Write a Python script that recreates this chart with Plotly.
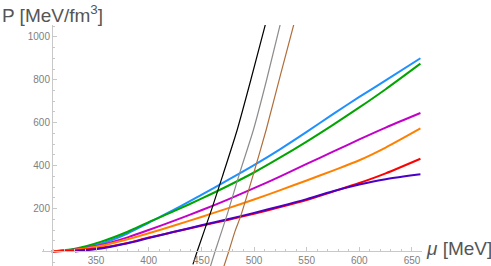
import plotly.graph_objects as go

# chemical potential grid [MeV]
mu = [308, 330, 355, 380, 400, 425, 450, 475, 500, 525, 550, 575, 600, 625, 658]
p_blue = [0, 10, 37, 84, 134, 197, 264, 332, 402, 477, 557, 640, 720, 797, 900]
p_green = [0, 13, 46, 92, 137, 190, 246, 305, 368, 438, 512, 590, 671, 756, 875]
p_magenta = [0, 9, 31, 66, 100, 145, 192, 242, 295, 350, 408, 465, 522, 577, 645]
p_orange = [0, 8, 27, 57, 85, 122, 161, 201, 242, 286, 331, 377, 425, 484, 573]
p_red = [0, 6, 18, 40, 65, 92, 120, 147, 176, 207, 240, 279, 319, 364, 432]

mu_purple = [330, 355, 380, 400, 425, 450, 475, 500, 525, 550, 575, 600, 625, 658]
p_purple = [0, 14, 38, 63, 93, 122, 150, 180, 211, 244, 281, 312, 337, 360]

mu_black = [442, 446, 460, 470, 484, 497, 512]
p_black = [-60, 0, 200, 350, 566, 800, 1080]
mu_gray = [456, 463, 475, 486.8, 499.4, 512, 526]
p_gray = [-110, 0, 180, 372, 566, 800, 1080]
mu_brown = [470, 476, 482, 487, 500, 511.5, 525, 539]
p_brown = [-90, 0, 95, 160, 370, 566, 820, 1080]

x_ticks = [350, 400, 450, 500, 550, 600, 650]
y_ticks = [200, 400, 600, 800, 1000]

fig = go.Figure()

thick = [
    (mu, p_blue, "rgb(30,144,255)"),
    (mu, p_green, "rgb(0,165,0)"),
    (mu, p_magenta, "rgb(195,0,200)"),
    (mu, p_orange, "rgb(255,128,0)"),
    (mu, p_red, "rgb(255,0,0)"),
    (mu_purple, p_purple, "rgb(75,0,200)"),
]
thin = [
    (mu_black, p_black, "rgb(0,0,0)"),
    (mu_gray, p_gray, "rgb(140,140,140)"),
    (mu_brown, p_brown, "rgb(175,110,60)"),
]
for xs, ys, c in thick:
    fig.add_trace(go.Scatter(x=xs, y=ys, mode="lines",
                             line=dict(color=c, width=2, shape="spline", smoothing=0.8),
                             showlegend=False, hoverinfo="skip"))
for xs, ys, c in thin:
    fig.add_trace(go.Scatter(x=xs, y=ys, mode="lines",
                             line=dict(color=c, width=1.2, shape="spline", smoothing=0.6),
                             showlegend=False, hoverinfo="skip"))

axcol = "#c8c8c8"
fig.update_layout(
    width=491, height=266,
    margin=dict(l=42, r=69, t=25, b=0),
    paper_bgcolor="white", plot_bgcolor="white",
    font=dict(family="Liberation Sans, Arial, sans-serif"),
    xaxis=dict(range=[298.7, 659.5], anchor="free", position=0.0602,
               showline=True, linecolor=axcol, linewidth=1,
               tickvals=x_ticks, ticks="inside", ticklen=4, tickcolor=axcol,
               minor=dict(tick0=300, dtick=10, ticks="inside", ticklen=2, tickcolor=axcol),
               showgrid=False, zeroline=False,
               tickfont=dict(size=10, color="#808080")),
    yaxis=dict(range=[-67.5, 1055], anchor="free", position=0.0263,
               showline=True, linecolor=axcol, linewidth=1,
               tickvals=y_ticks, ticks="inside", ticklen=4, tickcolor=axcol,
               minor=dict(tick0=0, dtick=50, ticks="inside", ticklen=2, tickcolor=axcol),
               showgrid=False, zeroline=False,
               tickfont=dict(size=10, color="#808080")),
    annotations=[
        dict(text="P [MeV/fm<sup>3</sup>]", xref="paper", yref="paper",
             x=-42/380, y=1 + 25/241, xanchor="left", yanchor="top", showarrow=False,
             font=dict(size=19, color="#555555")),
        dict(text="<i>μ</i> [MeV]", xref="paper", yref="paper",
             x=1 + 2/380, y=(266-248)/241, xanchor="left", yanchor="middle", showarrow=False,
             font=dict(size=19, color="#555555")),
    ],
)

fig.write_html("out.html", config={"displayModeBar": False},
               post_script="document.body.style.margin='0';document.body.style.overflow='hidden';")
